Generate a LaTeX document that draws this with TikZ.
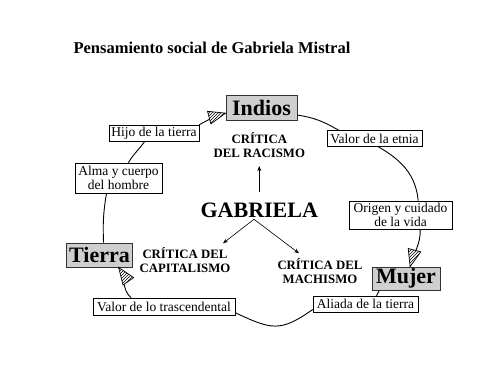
\documentclass[tikz,border=0pt]{standalone}
\usepackage{fontspec}
\setmainfont{Liberation Serif}
\usetikzlibrary{patterns,decorations.markings,arrows.meta}

\tikzset{
  smallbox/.style={draw=black, line width=0.6pt, fill=white, font=\fontsize{13.5}{13.5}\selectfont, align=center, inner xsep=1.5pt, inner ysep=1.5pt},
  bigbox/.style={draw=black!80, line width=0.8pt, fill=gray!38, font=\fontsize{22}{24}\selectfont\bfseries, inner xsep=3pt, inner ysep=1pt},
  crit/.style={font=\fontsize{12.8}{14}\selectfont\bfseries, align=center},
  ring/.style={line width=0.9pt},
  hatchtip/.style={postaction={decorate}, decoration={markings, mark=at position 1 with {
      \path[fill=white] (0,0) -- (-17,6.5) -- (-17,-6.5) -- cycle;
      \path[pattern=north east lines] (0,0) -- (-17,6.5) -- (-17,-6.5) -- cycle;
      \draw[line width=0.7pt, line join=miter] (0,0) -- (-17,6.5) -- (-17,-6.5) -- cycle;}}},
  thinarrow/.style={line width=0.6pt, -{Stealth[length=5pt,width=4pt]}},
}

\begin{document}
\begin{tikzpicture}[x=1pt,y=1pt]
\useasboundingbox[fill=white] (0,0) rectangle (495,382);

\node[anchor=base west, font=\fontsize{16.5}{18}\selectfont\bfseries] (title) at (70,328) {Pensamiento social de Gabriela Mistral};

\node[bigbox, minimum width=71, minimum height=25] (indios) at (261.5,274.5) {Indios};
\node[bigbox, minimum width=65, minimum height=24] (tierra) at (99.5,127) {Tierra};
\node[bigbox, minimum width=68, minimum height=23] (mujer) at (406,103.5) {Mujer};

\node[smallbox, minimum width=90, minimum height=16] (hijo) at (154,249) {Hijo de la tierra};
\node[smallbox, minimum width=95, minimum height=16] (valoret) at (374.5,243.5) {Valor de la etnia};
\node[smallbox, minimum width=87, minimum height=30] (alma) at (118.5,204) {Alma y cuerpo\\del hombre};
\node[smallbox, minimum width=103, minimum height=28] (origen) at (400.5,167) {Origen y cuidado\\de la vida};
\node[smallbox, minimum width=105, minimum height=16] (aliada) at (365.5,78) {Aliada de la tierra};
\node[smallbox, minimum width=142, minimum height=17] (valortr) at (164,75.5) {Valor de lo trascendental};

\node[crit] (racismo) at (259.3,237) {CRÍTICA\\DEL RACISMO};
\node[crit] (capit) at (185,122) {CRÍTICA DEL\\CAPITALISMO};
\node[crit] (mach) at (320,110.5) {CRÍTICA DEL\\MACHISMO};
\node[font=\fontsize{22}{24}\selectfont\bfseries] (gabriela) at (259.3,172) {GABRIELA};

\coordinate (gs) at (254,162.7);
\coordinate (ca) at (223,138.7);
\coordinate (ma) at (299,128.7);
\draw[thinarrow] (gs) -- (ca);
\draw[thinarrow] (gs) -- (ma);
\draw[thinarrow, shorten <=7pt, shorten >=5pt] (gabriela.north) -- (racismo.south);

\draw[ring, hatchtip] (hijo.north east) to[out=28,in=195] (indios.189);
\draw[ring] (indios.-12) to[out=-8,in=150] (valoret.167);
\draw[ring] (valoret.-65) to[out=-30,in=95] (origen.39);
\draw[ring, hatchtip] (origen.-36) to[out=-88,in=75] (mujer.71);
\draw[ring] (mujer.204) to[out=-140,in=40] (aliada.37);
\draw[ring] (aliada.186) .. controls +(215:40) and +(-25:40) .. (valortr.-5.5);
\draw[ring, hatchtip] (valortr.165) to[out=140,in=-55] (tierra.-33);
\draw[ring] (tierra.72) to[out=92,in=-100] (alma.232);
\draw[ring] (alma.57) to[out=60,in=-125] (hijo.222);
\end{tikzpicture}
\end{document}
